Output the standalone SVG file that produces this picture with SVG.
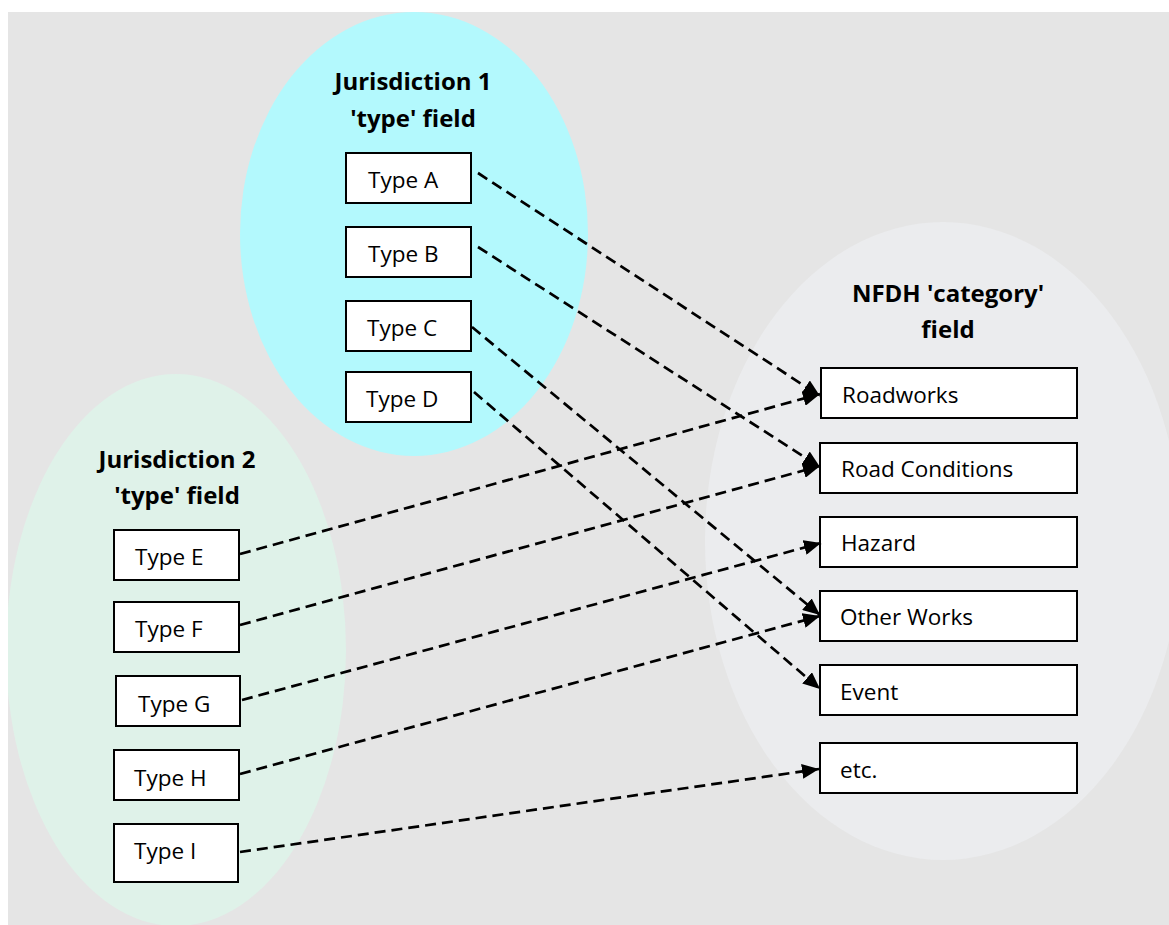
<svg xmlns="http://www.w3.org/2000/svg" width="1169" height="925" viewBox="0 0 1169 925">
<defs>
<clipPath id="bg"><rect x="8" y="12" width="1161" height="913"/></clipPath>
<marker id="ah" markerUnits="userSpaceOnUse" markerWidth="19" markerHeight="15" refX="17" refY="7.5" orient="auto">
<path d="M0,0 L17,7.5 L0,15 Z" fill="#000"/>
</marker>
</defs>
<style>
.box{fill:#fff;stroke:#000;stroke-width:2}
.lbl{font-family:"Open Sans","Liberation Sans",sans-serif;font-size:22.5px;fill:#000}
.ttl{font-family:"Open Sans","Liberation Sans",sans-serif;font-size:24px;font-weight:bold;fill:#000;text-anchor:middle}
.con{fill:none;stroke:#000;stroke-width:2.7;stroke-dasharray:11 6;marker-end:url(#ah)}
</style>
<rect x="8" y="12" width="1161" height="913" fill="#e5e5e5"/>
<g clip-path="url(#bg)">
<ellipse id="nfdh-area" cx="943" cy="541" rx="238" ry="319" fill="#ebecee"/>
<ellipse id="j2-area" cx="176" cy="650" rx="170" ry="276" fill="#dff2e9"/>
<ellipse id="j1-area" cx="414" cy="234" rx="174" ry="222" fill="#b3f9fd"/>
</g>
<g id="titles">
<text class="ttl" x="413" y="90">Jurisdiction 1</text>
<text class="ttl" x="413" y="127">'type' field</text>
<text class="ttl" x="177" y="468">Jurisdiction 2</text>
<text class="ttl" x="177" y="504">'type' field</text>
<text class="ttl" x="948" y="302">NFDH 'category'</text>
<text class="ttl" x="948" y="338">field</text>
</g>
<g id="typeA"><rect class="box" x="346" y="153" width="125" height="50"/><text class="lbl" x="368" y="188">Type A</text></g>
<g id="typeB"><rect class="box" x="346" y="227" width="125" height="50"/><text class="lbl" x="368" y="262">Type B</text></g>
<g id="typeC"><rect class="box" x="346" y="301" width="125" height="50"/><text class="lbl" x="367" y="336">Type C</text></g>
<g id="typeD"><rect class="box" x="346" y="372" width="125" height="50"/><text class="lbl" x="366" y="407">Type D</text></g>
<g id="typeE"><rect class="box" x="114" y="530" width="125" height="50"/><text class="lbl" x="135" y="565">Type E</text></g>
<g id="typeF"><rect class="box" x="114" y="602" width="125" height="50"/><text class="lbl" x="135" y="637">Type F</text></g>
<g id="typeG"><rect class="box" x="116" y="676" width="124" height="50"/><text class="lbl" x="138" y="712">Type G</text></g>
<g id="typeH"><rect class="box" x="114" y="750" width="125" height="50"/><text class="lbl" x="134" y="786">Type H</text></g>
<g id="typeI"><rect class="box" x="114" y="824" width="124" height="58"/><text class="lbl" x="134" y="859">Type I</text></g>
<g id="roadworks"><rect class="box" x="821" y="368" width="256" height="50"/><text class="lbl" x="842" y="403">Roadworks</text></g>
<g id="roadconditions"><rect class="box" x="820" y="443" width="257" height="50"/><text class="lbl" x="841" y="477">Road Conditions</text></g>
<g id="hazard"><rect class="box" x="820" y="517" width="257" height="50"/><text class="lbl" x="841" y="551">Hazard</text></g>
<g id="otherworks"><rect class="box" x="820" y="591" width="257" height="50"/><text class="lbl" x="840" y="625">Other Works</text></g>
<g id="event"><rect class="box" x="820" y="665" width="257" height="50"/><text class="lbl" x="840" y="700">Event</text></g>
<g id="etc"><rect class="box" x="820" y="743" width="257" height="50"/><text class="lbl" x="840" y="778">etc.</text></g>
<g id="connectors">
<line class="con" x1="478" y1="173" x2="820" y2="396"/>
<line class="con" x1="478" y1="247" x2="820" y2="467"/>
<line class="con" x1="472" y1="327" x2="820" y2="615"/>
<line class="con" x1="474" y1="392" x2="820" y2="689"/>
<line class="con" x1="240" y1="554" x2="820" y2="394"/>
<line class="con" x1="240" y1="625" x2="820" y2="466"/>
<line class="con" x1="242" y1="700" x2="821" y2="543"/>
<line class="con" x1="240" y1="774" x2="820" y2="616"/>
<line class="con" x1="240" y1="852" x2="819" y2="769"/>
</g>
</svg>
